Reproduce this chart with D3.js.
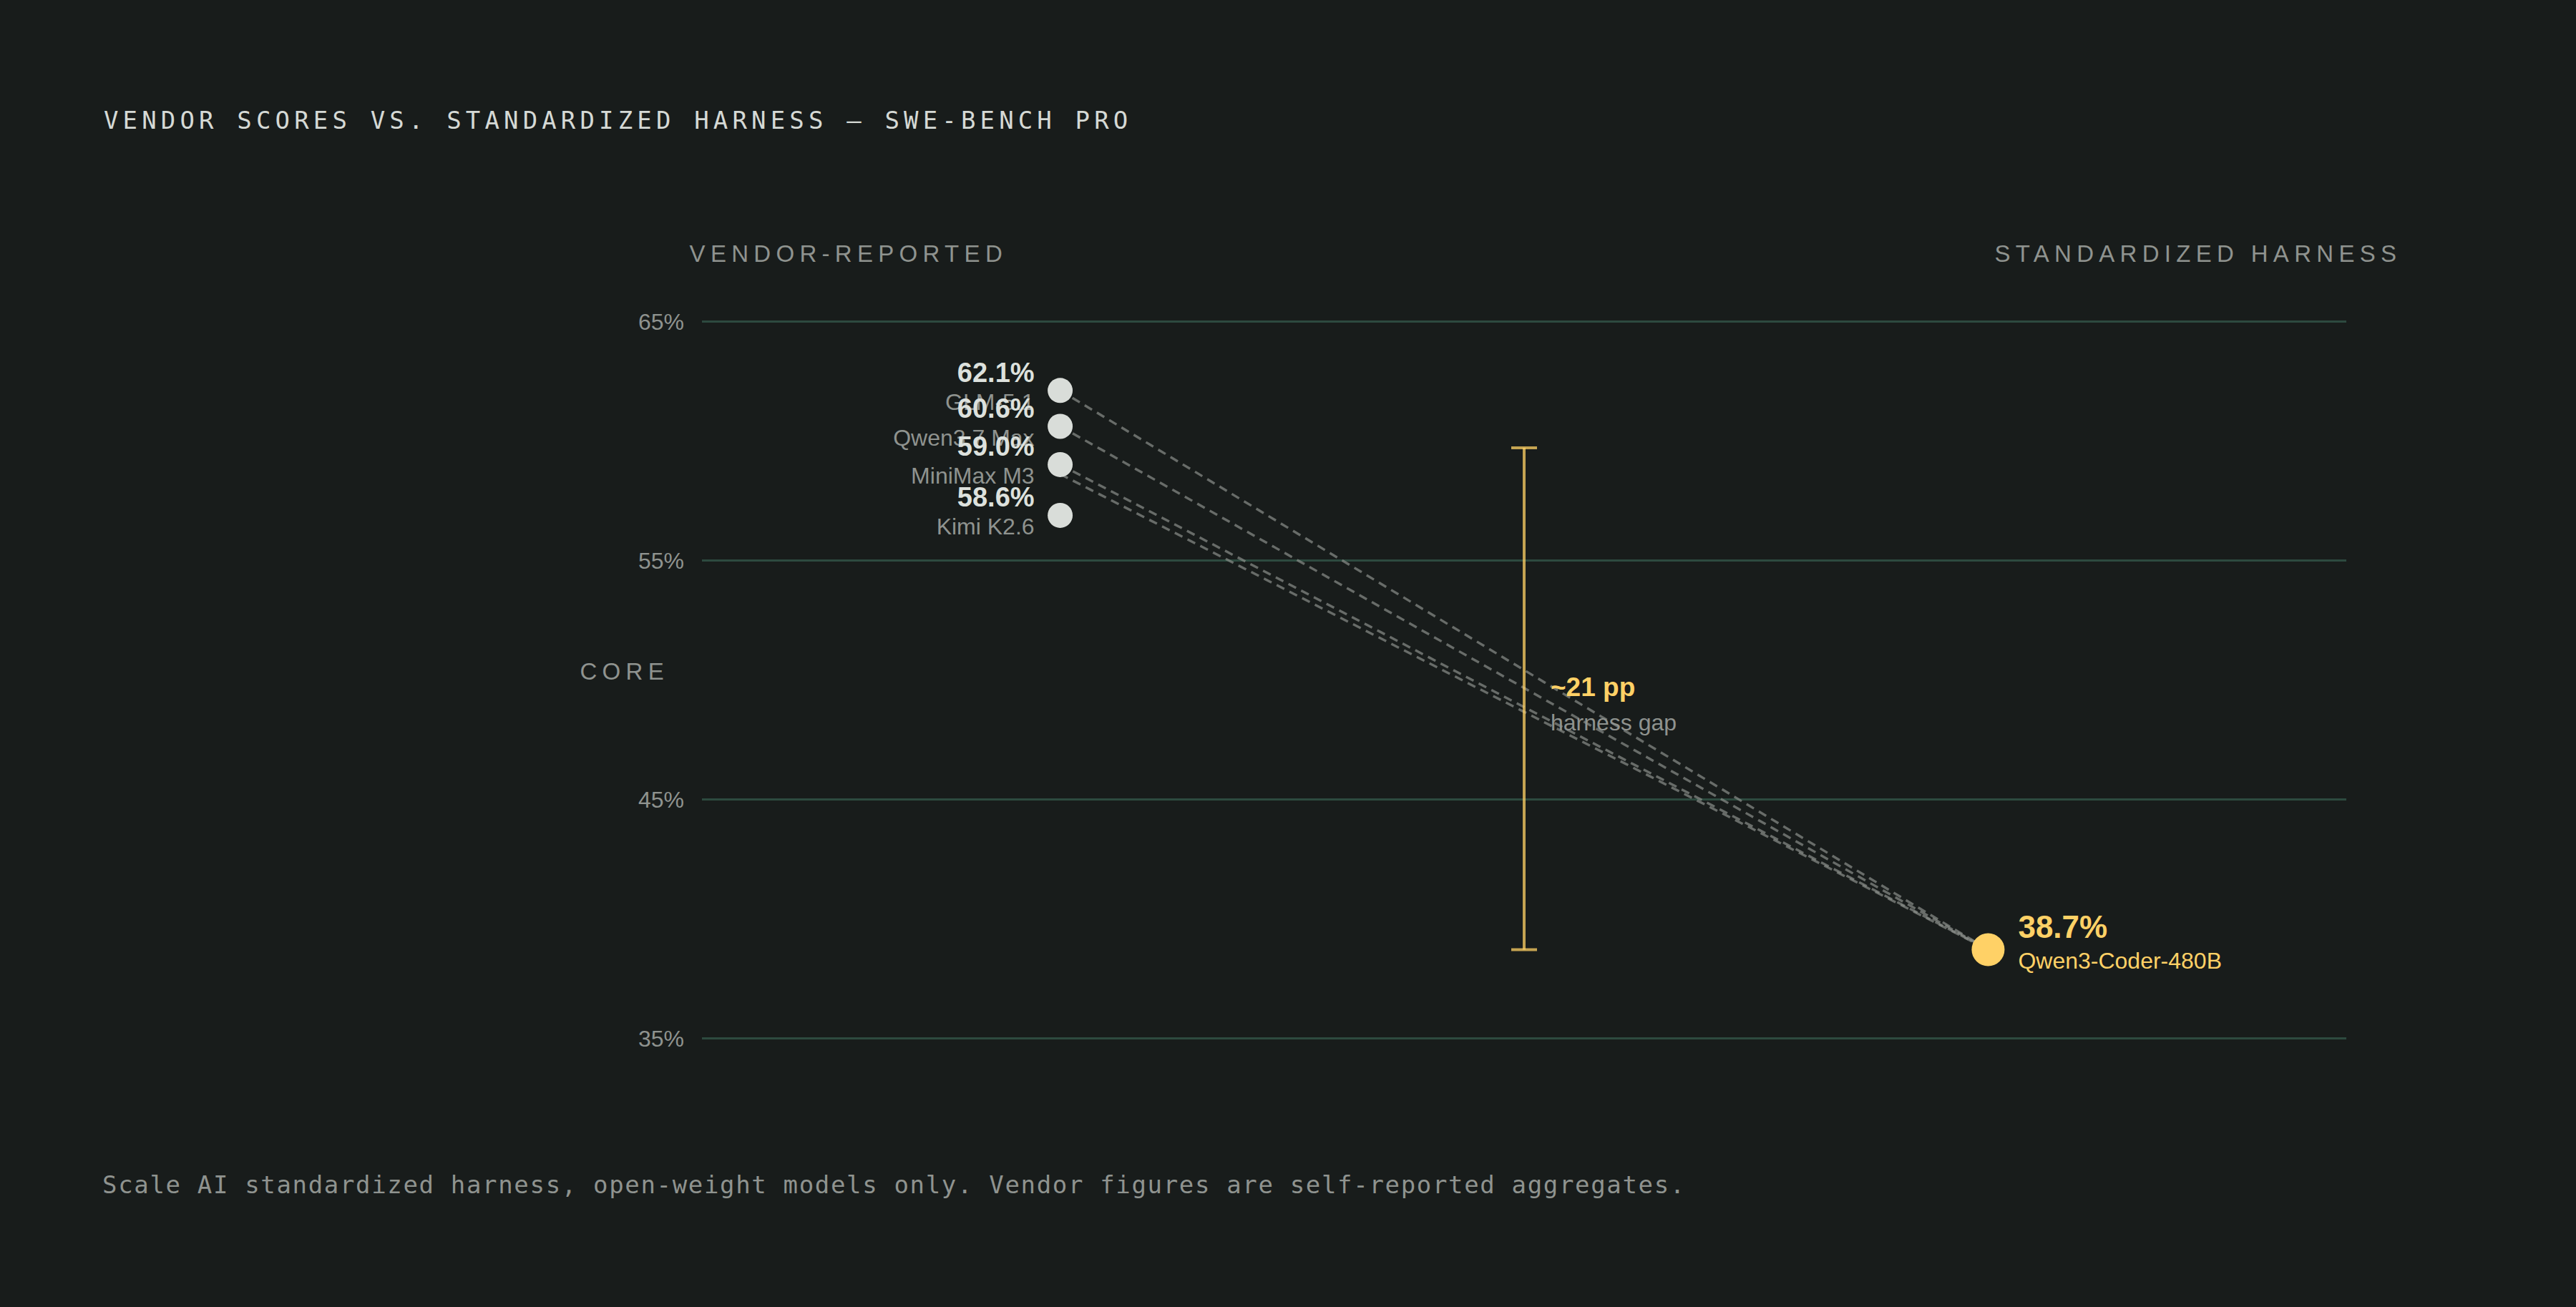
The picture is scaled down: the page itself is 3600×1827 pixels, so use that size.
<!DOCTYPE html>
<html><head><meta charset="utf-8">
<script src="https://cdn.jsdelivr.net/npm/d3@7"></script>
<style>
html,body{margin:0;padding:0;background:#181c1b;}
svg{display:block;}
</style></head><body>
<svg id="chart" width="3600" height="1827"></svg>
<script>
// ---- data ----
const models = ["GLM-5.1", "Qwen3.7 Max", "MiniMax M3", "Kimi K2.6"];
const vendorScores = [62.1, 60.6, 59.0, 58.6];
const harnessModel = "Qwen3-Coder-480B";
const harnessScore = 38.7;
const gapPP = 21;
const gapLabel = "~21 pp";
const gapSub = "harness gap";
const yTicks = [35, 45, 55, 65];
const yDomain = [35, 65];
const columns = ["VENDOR-REPORTED", "STANDARDIZED HARNESS"];
const yAxisTitle = "SCORE";
const title = "VENDOR SCORES VS. STANDARDIZED HARNESS — SWE-BENCH PRO";
const footnote = "Scale AI standardized harness, open-weight models only. Vendor figures are self-reported aggregates.";

// ---- layout ----
const W = 3600, H = 1827;
const plot = {left: 981, right: 3279, top: 449, bottom: 1451};
const SANS = "'Liberation Sans', Arial, Helvetica, sans-serif";
const MONO = "'DejaVu Sans Mono', 'Liberation Mono', monospace";
const BG = "#181c1b", GOLD = "#ffd166", GREY = "#8f938f", LIGHT = "#dde1dd";
const rL = 17.5, rR = 23;

const svg = d3.select("#chart");
svg.append("rect").attr("width", W).attr("height", H).attr("fill", BG);

const x = d3.scalePoint().domain(columns).range([plot.left, plot.right]).padding(0.386);
const y = d3.scaleLinear().domain(yDomain).range([plot.bottom, plot.top]);
const xL = x(columns[0]), xR = x(columns[1]);

// title & footnote
svg.append("text").attr("x", 145).attr("y", 180).text(title)
  .attr("font-family", MONO).attr("font-size", 34).attr("letter-spacing", 6.15).attr("fill", "#d5d9d5");
svg.append("text").attr("x", 143).attr("y", 1668).text(footnote)
  .attr("font-family", MONO).attr("font-size", 34).attr("letter-spacing", 1.66).attr("fill", GREY);

// axis with gridlines
const axis = d3.axisLeft(y).tickValues(yTicks).tickFormat(d => d + "%")
  .tickSize(-(plot.right - plot.left)).tickPadding(25);
const gAxis = svg.append("g").attr("transform", `translate(${plot.left},0)`).call(axis);
gAxis.select(".domain").remove();
gAxis.selectAll(".tick line").attr("stroke", "#2d4a3f").attr("stroke-width", 3);
gAxis.selectAll(".tick text").attr("font-family", SANS).attr("font-size", 32)
  .attr("fill", GREY).attr("dy", "0.36em");

// column headers
svg.append("text").attr("x", xL - 518).attr("y", 366).text(columns[0])
  .attr("font-family", SANS).attr("font-size", 33).attr("letter-spacing", 7.3).attr("fill", GREY);
svg.append("text").attr("x", xR + 9).attr("y", 366).text(columns[1])
  .attr("font-family", SANS).attr("font-size", 33).attr("letter-spacing", 7.3).attr("fill", GREY);

// y-axis title (clipped on the left)
svg.append("clipPath").attr("id", "clipL").append("rect")
  .attr("x", 806).attr("y", 0).attr("width", W - 806).attr("height", H);
svg.append("text").attr("x", 935).attr("y", 950).text(yAxisTitle)
  .attr("clip-path", "url(#clipL)")
  .attr("text-anchor", "end").attr("font-family", SANS).attr("font-size", 33)
  .attr("letter-spacing", 7.3).attr("fill", GREY);

// points with simple dodge
const pts = models.map((m, i) => ({name: m, v: vendorScores[i], y0: y(vendorScores[i])}));
pts.sort((a, b) => a.y0 - b.y0);
let prev = -Infinity;
pts.forEach(p => { p.y = (p.y0 - prev < 2 * rL + 2) ? prev + 71 : p.y0; prev = p.y; });

const yH = y(harnessScore);

// dashed connectors
svg.append("g").selectAll("line").data(pts).join("line")
  .attr("x1", xL).attr("y1", d => d.y0).attr("x2", xR).attr("y2", yH)
  .attr("stroke", "#8a8e8a").attr("stroke-opacity", 0.7).attr("stroke-width", 3.4)
  .attr("stroke-dasharray", "12 8");

// gap bar
const xm = (xL + xR) / 2;
const yTop = y(harnessScore + gapPP);
const gBar = svg.append("g").attr("stroke", GOLD).attr("stroke-opacity", 0.75).attr("stroke-width", 4);
gBar.append("line").attr("x1", xm).attr("x2", xm).attr("y1", yTop).attr("y2", yH);
gBar.append("line").attr("x1", xm - 18).attr("x2", xm + 18).attr("y1", yTop).attr("y2", yTop);
gBar.append("line").attr("x1", xm - 18).attr("x2", xm + 18).attr("y1", yH).attr("y2", yH);
const ymid = (yTop + yH) / 2;
svg.append("text").attr("x", xm + 37).attr("y", ymid - 4).text(gapLabel)
  .attr("font-family", SANS).attr("font-weight", "bold").attr("font-size", 37).attr("fill", GOLD);
svg.append("text").attr("x", xm + 37).attr("y", ymid + 44).text(gapSub)
  .attr("font-family", SANS).attr("font-size", 32).attr("fill", GREY);

// vendor dots
svg.append("g").selectAll("circle").data(pts).join("circle")
  .attr("cx", xL).attr("cy", d => d.y).attr("r", rL).attr("fill", "#d9ddd9");

// vendor labels: names first, values on top
svg.append("g").selectAll("text").data(pts).join("text")
  .attr("x", xL - 36).attr("y", d => d.y + 27).text(d => d.name)
  .attr("text-anchor", "end").attr("font-family", SANS).attr("font-size", 32).attr("fill", GREY);
svg.append("g").selectAll("text").data(pts).join("text")
  .attr("x", xL - 36).attr("y", d => d.y - 12).text(d => d3.format(".1f")(d.v) + "%")
  .attr("text-anchor", "end").attr("font-family", SANS).attr("font-weight", "bold")
  .attr("font-size", 38).attr("fill", LIGHT);

// harness dot + labels
svg.append("circle").attr("cx", xR).attr("cy", yH).attr("r", rR).attr("fill", GOLD);
svg.append("text").attr("x", xR + 42).attr("y", yH - 16).text(d3.format(".1f")(harnessScore) + "%")
  .attr("font-family", SANS).attr("font-weight", "bold").attr("font-size", 44).attr("fill", GOLD);
svg.append("text").attr("x", xR + 42).attr("y", yH + 27).text(harnessModel)
  .attr("font-family", SANS).attr("font-size", 32).attr("fill", GOLD);
</script>
</body></html>
